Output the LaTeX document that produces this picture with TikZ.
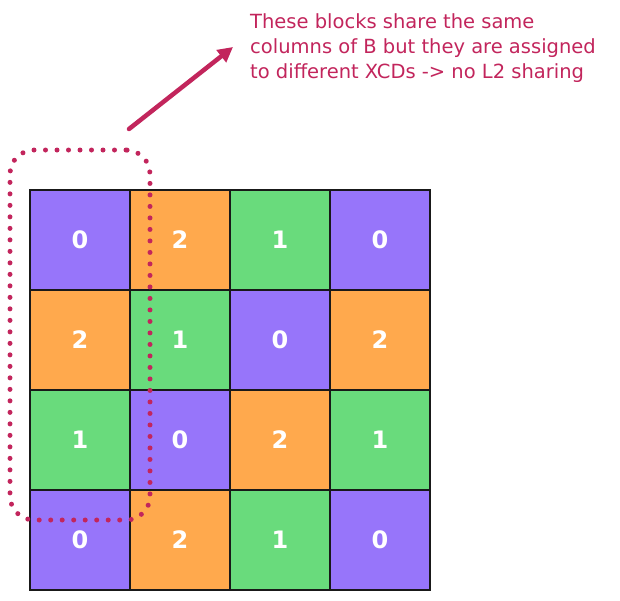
\documentclass[tikz,border=0pt]{standalone}
\usepackage{fontspec}
\setmainfont{DejaVu Sans}
\usepackage{tikz}
\usetikzlibrary{arrows.meta}
\definecolor{xcdP}{HTML}{9775FA}
\definecolor{xcdO}{HTML}{FFA94D}
\definecolor{xcdG}{HTML}{69DB7C}
\definecolor{note}{HTML}{C2255C}
\tikzset{
  cell/.style = {draw=black!90, line width=2.2pt, minimum size=100pt, inner sep=0pt, text=white, font=\fontsize{24}{24}\selectfont\bfseries},
  cP/.style = {cell, fill=xcdP},
  cO/.style = {cell, fill=xcdO},
  cG/.style = {cell, fill=xcdG},
  dotbox/.style = {draw=note, line width=5pt, line cap=round, dash pattern=on 0pt off 11.5pt, rounded corners=24pt, minimum width=140pt, minimum height=370pt, inner sep=0pt},
  notetext/.style = {text=note, align=left, anchor=north west, inner sep=0pt, font=\fontsize{19.5}{25}\selectfont},
  pointer/.style = {draw=note, line width=4.5pt, line cap=round, -{Triangle[length=15pt,width=15pt]}},
}
\begin{document}
\begin{tikzpicture}[x=1pt,y=-1pt]
\useasboundingbox (0,0) rectangle (620,600);
% row 1
\node [cP] (c11) at (80,240) {0};
\node [cO] (c12) at (180,240) {2};
\node [cG] (c13) at (280,240) {1};
\node [cP] (c14) at (380,240) {0};
% row 2
\node [cO] (c21) at (80,340) {2};
\node [cG] (c22) at (180,340) {1};
\node [cP] (c23) at (280,340) {0};
\node [cO] (c24) at (380,340) {2};
% row 3
\node [cG] (c31) at (80,440) {1};
\node [cP] (c32) at (180,440) {0};
\node [cO] (c33) at (280,440) {2};
\node [cG] (c34) at (380,440) {1};
% row 4
\node [cP] (c41) at (80,540) {0};
\node [cO] (c42) at (180,540) {2};
\node [cG] (c43) at (280,540) {1};
\node [cP] (c44) at (380,540) {0};
% dotted group over the first column
\node [dotbox] (group) at (80,335) {};
% annotation
\node [notetext] (msg) at (250,13) {These blocks share the same\\columns of B but they are assigned\\to different XCDs -> no L2 sharing};
\coordinate (tail) at (129,129);
\coordinate (tip) at (233,47);
\draw [pointer] (tail) -- (tip);
\end{tikzpicture}
\end{document}
